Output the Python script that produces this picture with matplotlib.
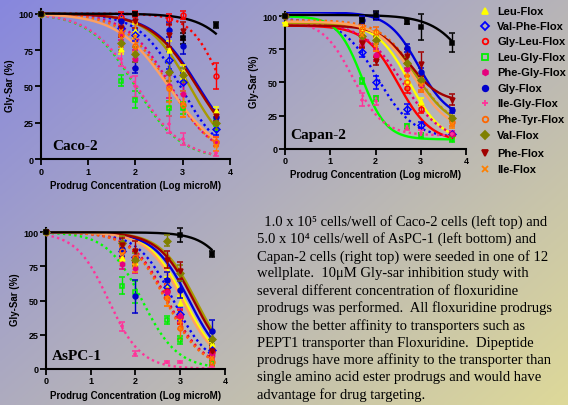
import numpy as np
import matplotlib
matplotlib.use('Agg')
from matplotlib import pyplot as plt

# Series (same order in every panel), last one is the parent drug (not in legend)
names = ['Leu-Flox', 'Val-Phe-Flox', 'Gly-Leu-Flox', 'Leu-Gly-Flox', 'Phe-Gly-Flox', 'Gly-Flox',
         'Ile-Gly-Flox', 'Phe-Tyr-Flox', 'Val-Flox', 'Phe-Flox', 'Ile-Flox', 'Floxuridine']
log_conc = [0, 1.7, 2, 2.7, 3, 3.7]

# Caco-2: measured Gly-Sar uptake (%)
caco_y = [
    [100, 76, 88, 75, 60, 33],
    [100, 90, 85, 68, 53, 21],
    [100, 98, 100, 96, 99, 57],
    [100, 54, 41, 35, 35, 24],
    [100, 87, 69, 50, 45, 12],
    [100, 95, 63, 89, 78, 29],
    [100, 69, 50, 24, 14, 4],
    [100, 85, 78, 49, 37, 12],
    [100, 80, 72, 60, 58, 25],
    [100, 90, 95, 85, 88, 30],
    [100, 88, 84, 48, 38, 9],
    [100, np.nan, 100, np.nan, 83, 92],
]
caco_err = [
    [0, 4, 5, 6, 5, 3],
    [0, 5, 4, 6, 6, 4],
    [0, 3, 2, 4, 3, 9],
    [0, 4, 6, 5, 4, 4],
    [0, 5, 6, 8, 7, 3],
    [0, 4, 4, 5, 6, 5],
    [0, 5, 7, 6, 4, 2],
    [0, 8, 9, 10, 8, 3],
    [0, 5, 5, 6, 5, 4],
    [0, 6, 5, 8, 6, 4],
    [0, 9, 10, 12, 9, 3],
    [0, 0, 1, 0, 4, 2],
]
# fit parameters: top, bottom, logIC50, hill slope
caco_fit = [
    [100, 0, 3.30, 0.9], [100, 0, 2.95, 1.0], [100, 0, 3.85, 1.3], [100, 0, 2.00, 0.9],
    [100, 0, 2.75, 0.95], [100, 0, 3.33, 0.9], [100, 0, 2.03, 0.9], [100, 0, 2.72, 0.9],
    [100, 0, 3.15, 1.0], [100, 0, 3.30, 0.9], [100, 0, 2.70, 0.8], [100, 0, 4.50, 1.0],
]
caco_dotted = [0, 1, 1, 1, 1, 0, 1, 1, 0, 0, 0, 0]

# Capan-2
capan_y = [
    [95, 88, 85, 52, 35, 10],
    [100, 73, 50, 30, 18, 11],
    [100, 81, 70, 46, 30, 10],
    [100, 51, 38, 17, 10, 7],
    [100, 82, 71, 60, 48, 11],
    [100, 97, 100, 76, 58, 29],
    [100, 37, 36, 16, 12, 11],
    [100, 90, 88, 50, 50, 20],
    [100, 85, 82, 65, 52, 23],
    [100, 80, 66, 70, 64, 37],
    [100, 86, 78, 55, 48, 19],
    [100, 97, 101, 96, 92, 80],
]
capan_err = [
    [0, 3, 3, 4, 3, 2],
    [0, 4, 5, 4, 2, 2],
    [0, 4, 4, 4, 3, 2],
    [0, 2, 2, 2, 2, 2],
    [0, 4, 4, 5, 5, 2],
    [0, 3, 3, 3, 3, 2],
    [0, 5, 3, 2, 2, 2],
    [0, 4, 4, 5, 6, 3],
    [0, 3, 3, 4, 4, 2],
    [0, 4, 3, 5, 9, 4],
    [0, 3, 4, 4, 5, 3],
    [0, 2, 3, 2, 10, 7],
]
capan_fit = [
    [95, 5, 2.75, 1.2], [98, 8, 2.05, 1.1], [93, 5, 2.50, 1.2], [100, 7, 1.70, 1.6],
    [95, 5, 2.60, 1.0], [103, 22, 2.95, 1.3], [97, 10, 1.50, 1.3], [97, 15, 2.90, 1.1],
    [95, 15, 2.90, 1.1], [93, 35, 2.75, 1.3], [96, 12, 2.85, 1.1], [101, 0, 4.30, 1.0],
]
capan_dotted = [0, 1, 0, 0, 1, 0, 1, 1, 0, 0, 0, 0]

# AsPC-1
aspc_y = [
    [100, 81, 78, 62, 48, 18],
    [100, 86, 82, 60, 40, 14],
    [100, 86, 81, 57, 38, 12],
    [100, 61, 56, 36, 21, 4],
    [100, 77, 74, 56, 39, 10],
    [100, 88, 53, 65, 58, 28],
    [100, 31, 11, 5, 5, 2],
    [100, 86, 82, 52, 30, 5],
    [100, 92, 80, 94, 70, 22],
    [100, 91, 86, 80, 72, 13],
    [100, 84, 76, 52, 35, 8],
    [100, np.nan, np.nan, np.nan, 98, 84],
]
aspc_err = [
    [0, 4, 4, 5, 5, 3],
    [0, 4, 4, 6, 5, 3],
    [0, 4, 5, 5, 5, 3],
    [0, 6, 8, 3, 3, 2],
    [0, 4, 4, 5, 5, 3],
    [0, 5, 12, 6, 6, 8],
    [0, 3, 2, 1, 1, 1],
    [0, 5, 5, 6, 8, 3],
    [0, 5, 5, 4, 6, 4],
    [0, 5, 8, 6, 6, 4],
    [0, 5, 5, 6, 6, 3],
    [0, 0, 0, 0, 5, 2],
]
aspc_fit = [
    [100, 0, 3.10, 1.1], [100, 0, 2.85, 1.1], [100, 0, 2.72, 1.1], [100, 0, 2.15, 1.1],
    [100, 0, 2.70, 1.1], [100, 0, 3.20, 1.1], [100, 0, 1.40, 1.2], [100, 0, 2.68, 1.1],
    [100, 0, 3.35, 1.1], [100, 0, 3.30, 1.1], [100, 0, 3.05, 1.1], [100, 0, 4.40, 1.2],
]
aspc_dotted = [0, 1, 1, 1, 1, 0, 1, 1, 0, 0, 0, 0]

# styles
mk_colors = ['#ffff00', '#0000ff', '#ff0000', '#00ee00', '#e6007e', '#0000cc',
             '#ff3399', '#ff6600', '#808000', '#a00000', '#ff8000', '#000000']
line_colors = ['#ffff00', '#0000ff', '#ff0000', '#00ff00', '#e6007e', '#0000dd',
               '#ff3399', '#ff6600', '#a89a00', '#a00000', '#ffa060', '#000000']
markers = ['^', 'D', 'o', 's', 'h', 'o', '+', 'o', 'D', 'v', 'x', 's']
hollow = [False, True, True, True, False, False, False, True, False, False, False, False]

plt.rcParams['font.family'] = ['Liberation Sans', 'DejaVu Sans']

fig = plt.figure(figsize=(5.68, 4.06), dpi=100)

# diagonal background gradient (blue top left -> pale yellow bottom right)
bg = fig.add_axes([0, 0, 1, 1], zorder=-5)
gx, gy = np.meshgrid(np.linspace(0, 1, 200), np.linspace(0, 1, 150))
t = np.clip(0.55 * gx + 0.45 * gy, 0, 1)[..., None]
c0 = np.array([0.53, 0.53, 0.87])
c1 = np.array([0.87, 0.85, 0.60])
bg.imshow(c0 + (c1 - c0) * t, aspect='auto', extent=[0, 1, 0, 1], origin='upper')
bg.axis('off')


def sigmoid(x, p):
    top, bottom, ic50, hill = p
    return bottom + (top - bottom) / (1 + 10 ** ((x - ic50) * hill))


def panel(rect, ys, errs, fits, dotted, label, label_pos):
    ax = fig.add_axes(rect)
    ax.patch.set_alpha(0)
    xx = np.linspace(0, 3.7, 200)
    for i in range(len(names)):
        ls = (0, (1, 1.4)) if dotted[i] else '-'
        ax.plot(xx, sigmoid(xx, fits[i]), color=line_colors[i], ls=ls, lw=1.7, zorder=2)
    for i in range(len(names)):
        fc = 'none' if hollow[i] else mk_colors[i]
        ax.errorbar(log_conc, ys[i], yerr=errs[i], fmt=markers[i], color=mk_colors[i],
                    mfc=fc, mec=mk_colors[i], ms=3.5, mew=1.1, elinewidth=1.0,
                    capsize=2.5, capthick=1.0, zorder=3, clip_on=False)
    ax.set_xlim(0, 4)
    ax.set_ylim(0, 103)
    ax.set_xticks([0, 1, 2, 3, 4])
    ax.set_yticks([0, 25, 50, 75, 100])
    for s in ['top', 'right']:
        ax.spines[s].set_visible(False)
    for s in ['left', 'bottom']:
        ax.spines[s].set_linewidth(1.5)
    ax.tick_params(width=1.3, length=4, labelsize=6.5, pad=1.5)
    for lab in ax.get_xticklabels() + ax.get_yticklabels():
        lab.set_fontweight('bold')
    ax.set_xlabel('Prodrug Concentration (Log microM)', fontsize=7, fontweight='bold', labelpad=3)
    ax.set_ylabel('Gly-Sar (%)', fontsize=7, fontweight='bold', labelpad=2)
    ax.text(label_pos[0], label_pos[1], label, transform=ax.transAxes, fontsize=11,
            fontweight='bold', family=['Liberation Serif', 'DejaVu Serif'])
    return ax


panel([0.0722, 0.6052, 0.3327, 0.3695], caco_y, caco_err, caco_fit, caco_dotted, 'Caco-2', (0.06, 0.07))
panel([0.5018, 0.6313, 0.3187, 0.3360], capan_y, capan_err, capan_fit, capan_dotted, 'Capan-2', (0.03, 0.08))
panel([0.0810, 0.0894, 0.3151, 0.3460], aspc_y, aspc_err, aspc_fit, aspc_dotted, 'AsPC-1', (0.035, 0.07))

# legend (prodrugs only)
leg_y = [12, 27, 42, 58, 73, 89, 104, 120, 136, 154, 170]
for i in range(11):
    fy = 1 - leg_y[i] / 406
    fc = 'none' if hollow[i] else mk_colors[i]
    fig.add_artist(plt.Line2D([485 / 568], [fy], marker=markers[i], color=mk_colors[i], mfc=fc,
                              mec=mk_colors[i], ms=4, mew=1.3, ls='none'))
    fig.text(497 / 568, fy, names[i], fontsize=8, fontweight='bold', va='center')

desc = [
    '  1.0 x 10\u2075 cells/well of Caco-2 cells (left top) and',
    '5.0 x 10\u2074 cells/well of AsPC-1 (left bottom) and',
    'Capan-2 cells (right top) were seeded in one of 12',
    'wellplate.  10\u03bcM Gly-sar inhibition study with',
    'several different concentration of floxuridine',
    'prodrugs was performed.  All floxuridine prodrugs',
    'show the better affinity to transporters such as',
    'PEPT1 transporter than Floxuridine.  Dipeptide',
    'prodrugs have more affinity to the transporter than',
    'single amino acid ester prodrugs and would have',
    'advantage for drug targeting.',
]
for k, line in enumerate(desc):
    fig.text(257 / 568, 1 - (222 + 17.3 * k) / 406, line, fontsize=10.5, va='center',
             family=['Liberation Serif', 'DejaVu Serif'])

fig.savefig('out.png', dpi=100)
